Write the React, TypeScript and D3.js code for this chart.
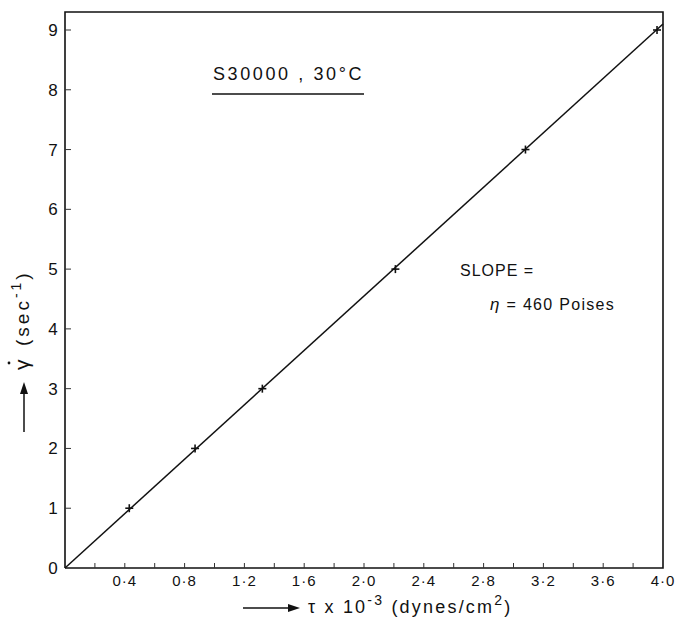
import React from "react";
import * as d3 from "d3";

// measured points: shear stress (x10^-3 dynes/cm2) vs shear rate (sec^-1)
const tau = [0.43, 0.87, 1.32, 2.21, 3.08, 3.96];
const gamma = [1, 2, 3, 5, 7, 9];
// fitted straight line through the origin
const fitTau = [0, 4.0];
const fitGamma = [0, 9.1];
const xTickLabels = ["0·4", "0·8", "1·2", "1·6", "2·0", "2·4", "2·8", "3·2", "3·6", "4·0"];
const yTickLabels = ["0", "1", "2", "3", "4", "5", "6", "7", "8", "9"];

const W = 679;
const H = 618;
const margin = { top: 12, right: 16, bottom: 50, left: 65 };
const font = "'Liberation Sans', Arial, sans-serif";

const App = () => {
  const x = d3.scaleLinear().domain([0, 4]).range([margin.left, W - margin.right]);
  const y = d3.scaleLinear().domain([0, 9]).range([H - margin.bottom, 30]);
  const yTop = margin.top;

  const line = d3
    .line<number>()
    .x((d) => x(fitTau[d]))
    .y((d) => y(fitGamma[d]));

  const minorX = d3.range(1, 20).map((i) => i * 0.2);
  const s = 4; // half size of the + marks

  return (
    <svg width={W} height={H} style={{ display: "block", position: "absolute", left: 0, top: 0 }}>
      <rect width={W} height={H} fill="#fff" />
      {/* frame */}
      <path
        d={`M${x(0)},${y(0)} V${yTop} H${x(4)} V${y(0)} H${x(0)}`}
        fill="none"
        stroke="#111"
        strokeWidth={1.6}
      />
      {/* x ticks */}
      {minorX.map((v) => (
        <line key={v} x1={x(v)} x2={x(v)} y1={y(0)} y2={y(0) - 5} stroke="#333" strokeWidth={1} />
      ))}
      {xTickLabels.map((t, i) => (
        <text
          key={t}
          x={x((i + 1) * 0.4)}
          y={586}
          textAnchor="middle"
          fontFamily={font}
          fontSize={15}
          letterSpacing={1}
          fill="#111"
        >
          {t}
        </text>
      ))}
      {/* y ticks */}
      {yTickLabels.map((t, i) => (
        <g key={t}>
          {i > 0 && <line x1={x(0)} x2={x(0) + 6} y1={y(i)} y2={y(i)} stroke="#333" strokeWidth={1} />}
          <text
            x={53}
            y={y(i) + 6}
            textAnchor="middle"
            fontFamily={font}
            fontSize={17}
            fill="#111"
          >
            {t}
          </text>
        </g>
      ))}
      {/* fitted line */}
      <path d={line([0, 1]) || ""} fill="none" stroke="#111" strokeWidth={1.5} />
      {/* data points */}
      {tau.map((t, i) => (
        <g key={i} stroke="#111" strokeWidth={1.6}>
          <line x1={x(t) - s} x2={x(t) + s} y1={y(gamma[i])} y2={y(gamma[i])} />
          <line x1={x(t)} x2={x(t)} y1={y(gamma[i]) - s} y2={y(gamma[i]) + s} />
        </g>
      ))}
      {/* annotations */}
      <text x={213} y={80} fontFamily={font} fontSize={18} letterSpacing={2.6} fill="#111">
        S30000 , 30°C
      </text>
      <line x1={212} x2={364} y1={94} y2={94} stroke="#111" strokeWidth={1.5} />
      <text x={460} y={276} fontFamily={font} fontSize={16} letterSpacing={1} fill="#111">
        SLOPE =
      </text>
      <text x={490} y={310} fontFamily={font} fontSize={16} letterSpacing={1.3} fill="#111">
        <tspan fontStyle="italic" fontSize={17}>η</tspan> = 460 Poises
      </text>
      {/* x axis title */}
      <line x1={243} x2={292} y1={608} y2={608} stroke="#111" strokeWidth={1.5} />
      <path d="M300,608 L288,604 L288,612 Z" fill="#111" />
      <text x={308} y={613} fontFamily={font} fontSize={18} letterSpacing={2.2} fill="#111">
        τ x 10
        <tspan dy={-8} fontSize={14}>-3</tspan>
        <tspan dy={8}> (dynes/cm</tspan>
        <tspan dy={-8} fontSize={14}>2</tspan>
        <tspan dy={8}>)</tspan>
      </text>
      {/* y axis title */}
      <g transform="translate(29,432) rotate(-90)">
        <line x1={0} x2={42} y1={-5} y2={-5} stroke="#111" strokeWidth={1.5} />
        <path d="M50,-5 L38,-9 L38,-1 Z" fill="#111" />
        <text x={62} y={0} fontFamily={font} fontSize={21} fill="#111">
          γ
        </text>
        <circle cx={69} cy={-20} r={1.4} fill="#111" />
        <text x={86} y={0} fontFamily={font} fontSize={19} letterSpacing={3} fill="#111">
          {" (sec"}
          <tspan dy={-8} fontSize={14}>-1</tspan>
          <tspan dy={8}>)</tspan>
        </text>
      </g>
    </svg>
  );
};

export default App;
